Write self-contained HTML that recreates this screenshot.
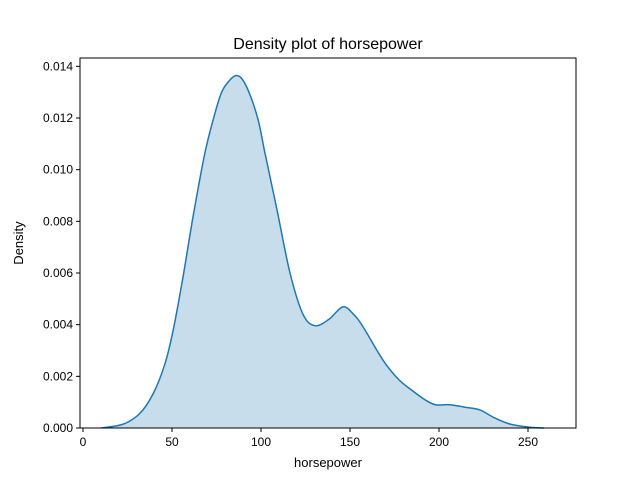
<!DOCTYPE html>
<html><head><meta charset="utf-8"><style>
body{margin:0;background:#fff;}
svg text{font-family:"Liberation Sans","DejaVu Sans",sans-serif;}
</style></head><body>
<svg id="chart" width="640" height="480">
<rect width="640" height="480" fill="#fff"/>
<g id="plot"></g>
<text x="328" y="49" font-size="16" text-anchor="middle">Density plot of horsepower</text>
<text x="328" y="467" font-size="13" text-anchor="middle">horsepower</text>
<text x="23" y="243" font-size="13" text-anchor="middle" transform="rotate(-90 23 243)">Density</text>
</svg>
<script>
const hp=[10,22.6,32,39.5,46.1,50.7,56.2,61.8,68.5,74.2,77.9,81.6,85.8,89.5,93.8,98.5,102.2,109,116.3,123.6,130.3,138,146,152,157.3,168.5,177,184,192,198,206,215,223,231,240,251,259];
const density=[0,0.00015,0.00057,0.00134,0.0025,0.0038,0.00585,0.00817,0.01065,0.0122,0.0130,0.0134,0.01364,0.0135,0.0129,0.0119,0.01065,0.00844,0.0060,0.00440,0.00396,0.00420,0.00469,0.00440,0.00392,0.00263,0.0019,0.0015,0.0011,0.0009,0.0009,0.0008,0.0007,0.0004,0.00015,0.00003,0];
const xTicks=[0,50,100,150,200,250];
const yTicks=[0,0.002,0.004,0.006,0.008,0.010,0.012,0.014];
const yLabels=["0.000","0.002","0.004","0.006","0.008","0.010","0.012","0.014"];
const L=80,R=576,T=58,B=428;
const xs=v=>83+v*1.78;
const ys=v=>428-v*(310/0.012);
const NS="http://www.w3.org/2000/svg";
const g=document.getElementById('plot');
function mk(t,a){const e=document.createElementNS(NS,t);for(const k in a)e.setAttribute(k,a[k]);g.appendChild(e);return e;}
const P=hp.map((h,i)=>[xs(h),ys(density[i])]);
let d=`M${P[0][0]},${P[0][1]}`;
for(let i=0;i<P.length-1;i++){const p0=P[Math.max(0,i-1)],p1=P[i],p2=P[i+1],p3=P[Math.min(P.length-1,i+2)];
d+=` C${p1[0]+(p2[0]-p0[0])/6},${p1[1]+(p2[1]-p0[1])/6} ${p2[0]-(p3[0]-p1[0])/6},${p2[1]-(p3[1]-p1[1])/6} ${p2[0]},${p2[1]}`;}
const area=mk('path',{d:d+` L${P[P.length-1][0]},${ys(0)} L${P[0][0]},${ys(0)} Z`,fill:'#1f77b4','fill-opacity':0.25,stroke:'none'});


const line=mk('path',{d:d,fill:'none',stroke:'#1f77b4','stroke-width':1.5});


const fr=mk('rect',{x:L,y:T,width:R-L,height:B-T,fill:'none',stroke:'#000','stroke-width':1});


xTicks.forEach(v=>{const x=xs(v);
const t=mk('line',{x1:x,x2:x,y1:B,y2:B+4,stroke:'#000'});


const l=mk('text',{x:x,y:B+18,'font-size':12,'text-anchor':'middle'});l.textContent=v;

});
yTicks.forEach((v,i)=>{const y=ys(v);
const t=mk('line',{x1:L-4,x2:L,y1:y,y2:y,stroke:'#000'});


const l=mk('text',{x:L-7,y:y+4,'font-size':12,'text-anchor':'end'});l.textContent=yLabels[i];

});
</script>
</body></html>
